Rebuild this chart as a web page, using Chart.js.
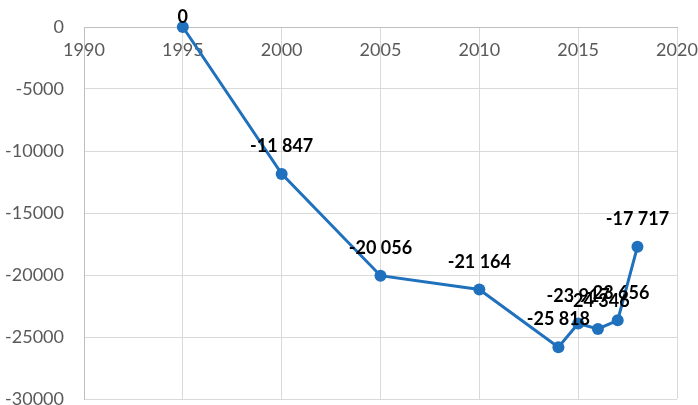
<!DOCTYPE html>
<html>
<head>
<meta charset="utf-8">
<script src="https://cdn.jsdelivr.net/npm/chart.js@4/dist/chart.umd.min.js"></script>
<style>
html,body{margin:0;padding:0;background:#fff;}
#wrap{width:698px;height:405px;}
</style>
</head>
<body>
<div id="wrap"><canvas id="c" width="698" height="405"></canvas></div>
<script>
const years = [1995, 2000, 2005, 2010, 2014, 2015, 2016, 2017, 2018];
const values = [0, -11847, -20056, -21164, -25818, -23917, -24346, -23656, -17717];
const xTicks = [1990, 1995, 2000, 2005, 2010, 2015, 2020];
const yTicks = [0, -5000, -10000, -15000, -20000, -25000, -30000];

const FONT = 'Lato, "Open Sans", sans-serif';
const fmt = v => {
  const s = Math.abs(v).toString().replace(/\B(?=(\d{3})+(?!\d))/g, ' ');
  return (v < 0 ? '-' : '') + s;
};

const labelPlugin = {
  id: 'pointLabels',
  afterDatasetsDraw(chart) {
    const ctx = chart.ctx;
    const meta = chart.getDatasetMeta(0);
    ctx.save();
    ctx.font = 'bold 18px ' + FONT;
    ctx.fillStyle = '#000000';
    ctx.textAlign = 'center';
    ctx.textBaseline = 'middle';
    meta.data.forEach((pt, i) => {
      let y = pt.y - 27.5;
      if (y < 17) y = 17;
      ctx.fillText(fmt(values[i]), pt.x, y);
    });
    ctx.restore();
  }
};

new Chart(document.getElementById('c'), {
  type: 'line',
  data: {
    datasets: [{
      data: years.map((x, i) => ({x: x, y: values[i]})),
      borderColor: '#1F70BD',
      backgroundColor: '#1F70BD',
      borderWidth: 3,
      pointRadius: 6,
      pointHoverRadius: 6,
      pointBorderWidth: 0,
      tension: 0,
      clip: false
    }]
  },
  options: {
    responsive: false,
    animation: false,
    devicePixelRatio: 1,
    layout: { padding: { top: 27, right: 21, bottom: 6, left: 0 } },
    plugins: { legend: { display: false }, tooltip: { enabled: false } },
    scales: {
      x: {
        type: 'linear',
        position: { y: 0 },
        min: 1990, max: 2020,
        afterBuildTicks: s => { s.ticks = xTicks.map(v => ({value: v})); },
        afterFit: s => { s.height = 0; s.paddingLeft = 0; s.paddingRight = 0; },
        ticks: {
          color: '#595959',
          font: { family: FONT, size: 18 },
          padding: 12,
          maxRotation: 0,
          callback: v => String(v)
        },
        grid: { color: '#D9D9D9', lineWidth: 1, drawTicks: false },
        border: { color: '#BFBFBF', width: 1 }
      },
      y: {
        type: 'linear',
        min: -30000, max: 0,
        afterBuildTicks: s => { s.ticks = yTicks.map(v => ({value: v})); },
        afterFit: s => { s.width = 84; s.paddingTop = 0; s.paddingBottom = 0; },
        ticks: {
          color: '#595959',
          font: { family: FONT, size: 18 },
          padding: 20,
          callback: v => String(v)
        },
        grid: { color: '#D9D9D9', lineWidth: 1, drawTicks: false },
        border: { color: '#BFBFBF', width: 1 }
      }
    }
  },
  plugins: [labelPlugin]
});
</script>
</body>
</html>
